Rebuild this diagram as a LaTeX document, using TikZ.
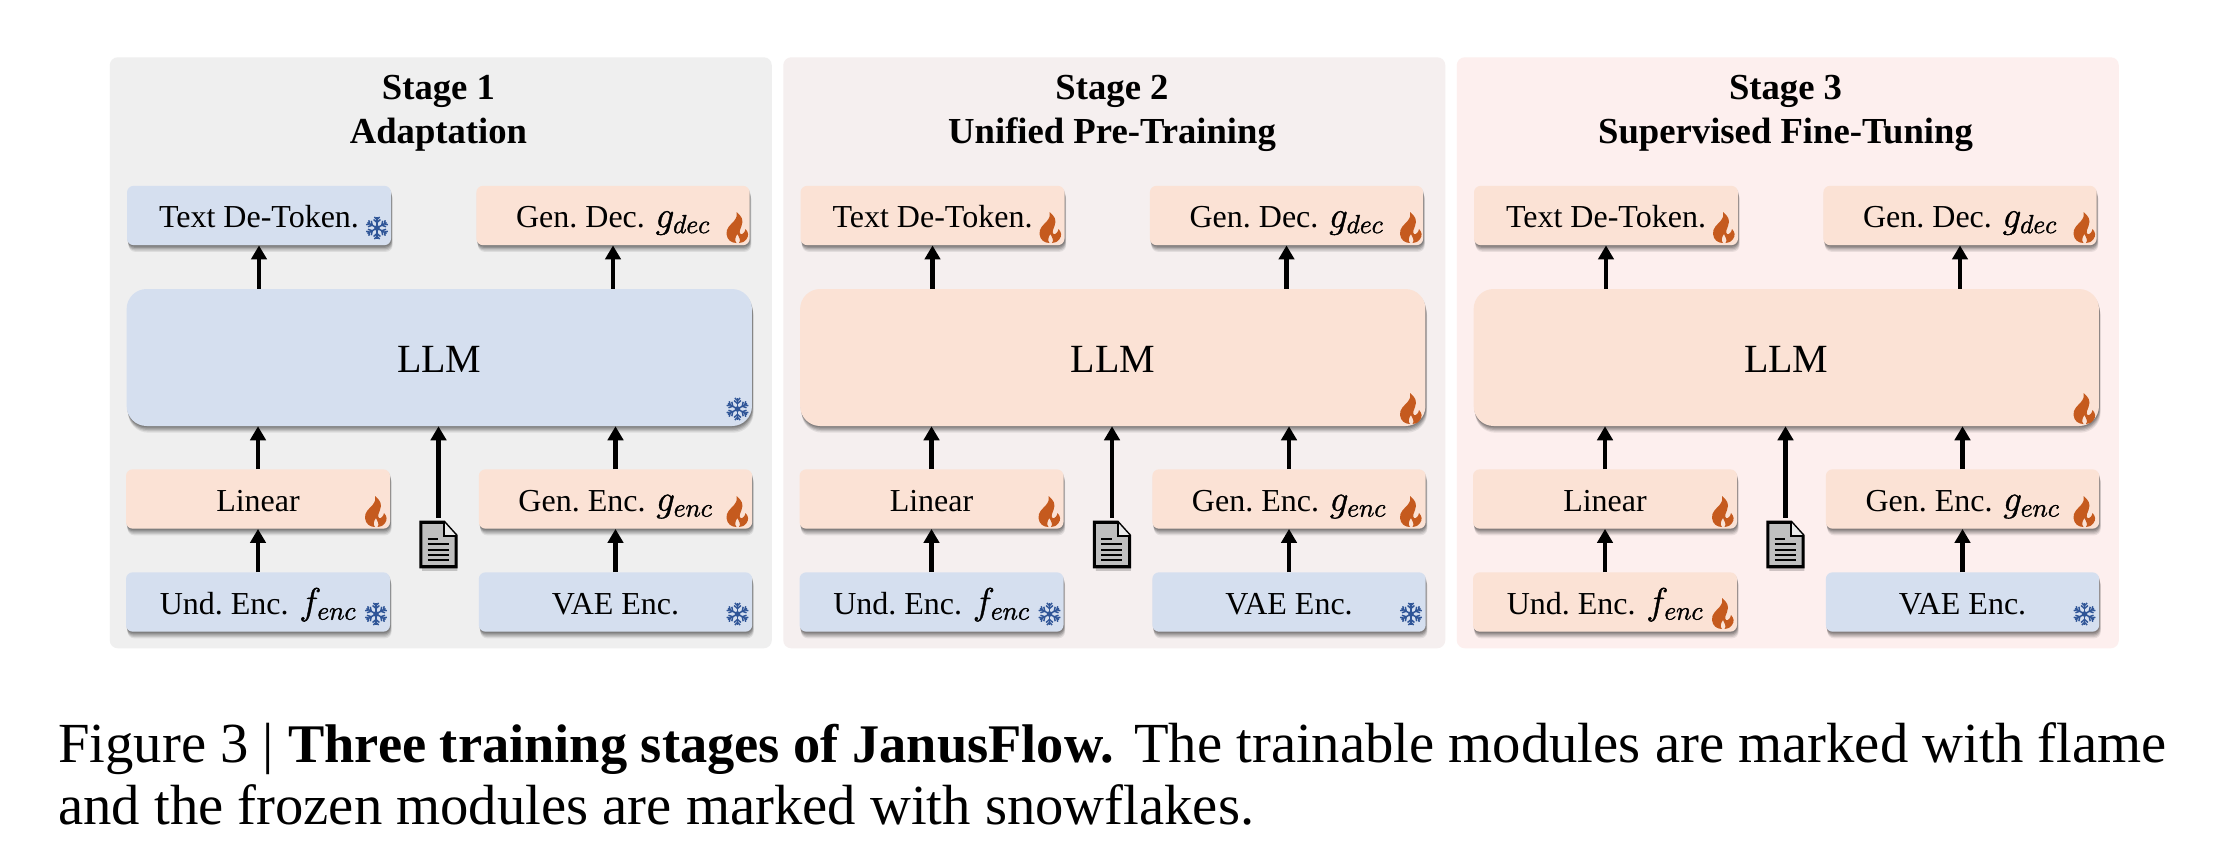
\documentclass[tikz,border=0pt]{standalone}
\usepackage{fix-cm}
\usepackage{fontspec}
\setmainfont{Liberation Serif}
\usetikzlibrary{arrows.meta,shadows}
\definecolor{frozen}{HTML}{D5DFEF}
\definecolor{train}{HTML}{FBE2D5}
\definecolor{iceblue}{HTML}{2F5597}
\definecolor{flamec}{HTML}{C55A1E}
\definecolor{pa}{HTML}{EFEFEF}
\definecolor{pb}{HTML}{F5EFEF}
\definecolor{pc}{HTML}{FDEFEE}
\frenchspacing
\newcommand{\mathtxt}[1]{\kern2pt{\fontsize{28}{28}\selectfont\special{pdf:code q 2 Tr 0.3 w}$#1$\special{pdf:code Q}}}
\tikzset{
  softshadow/.style={
    general shadow={fill=black,opacity=.08,shadow xshift=1.2pt,shadow yshift=-5pt},
    general shadow={fill=black,opacity=.10,shadow xshift=1pt,shadow yshift=-4pt},
    general shadow={fill=black,opacity=.12,shadow xshift=0.8pt,shadow yshift=-3pt},
    general shadow={fill=black,opacity=.14,shadow xshift=0.6pt,shadow yshift=-2pt},
    general shadow={fill=black,opacity=.14,shadow xshift=0.4pt,shadow yshift=-1pt}},
  panelbg/.style={rounded corners=6pt,inner sep=0pt,minimum width=496.5pt,minimum height=443.25pt},
  box/.style={rectangle,rounded corners=5pt,inner sep=0pt,font=\fontsize{24}{24}\selectfont,
    text height=18pt,text depth=0pt,minimum height=44.5pt,softshadow},
  bxfr/.style={box,fill=frozen},
  bxtr/.style={box,fill=train},
  lbox/.style={font=\fontsize{30}{30}\selectfont,text height=21.75pt,minimum width=469pt,minimum height=102.75pt,rounded corners=15pt},
  sbox/.style={minimum width=198pt},
  wbox/.style={minimum width=205pt},
  title/.style={font=\bfseries\fontsize{27.5}{27.5}\selectfont,inner sep=0pt,anchor=base},
  capt/.style={font=\fontsize{42.5}{42.5}\selectfont,inner sep=0pt,anchor=base west},
  conn/.style={-{Triangle[length=10.5pt,width=11.5pt]},line width=3.7pt},
  pics/icfr/.style={code={
    \foreach \a in {0,60,120,180,240,300}{
      \begin{scope}[rotate=\a,iceblue,line width=1.1pt]
        \draw (0,0) -- (0,-11);
        \draw (-3.4,-8.5) -- (0,-5.5) -- (3.4,-8.5);
        \draw (-2.6,-11) -- (0,-8.5) -- (2.6,-11);
      \end{scope}}
    \fill[iceblue] (0,0) circle (2.8);
  }},
  pics/ictr/.style={code={
    \fill[flamec]
      (-1,15) .. controls (-6,15) and (-10.5,12) .. (-11,6)
      .. controls (-11.5,0) and (-7,-3) .. (-3.5,-7)
      .. controls (-1,-10) and (0,-13) .. (-1,-16)
      .. controls (4,-12) and (6.5,-8) .. (4,-2)
      .. controls (3,1) and (1,4) .. (3,6)
      .. controls (5,7) and (7.5,4) .. (8,1)
      .. controls (11,4) and (11.5,8) .. (9,11)
      .. controls (7,14) and (4,15) .. (1.5,15)
      .. controls (4,12) and (1,9) .. (0,6)
      .. controls (-2.5,9) and (-3,13) .. (-1,15) -- cycle;
  }},
}
% #1 shift, #2 panel colour, #3 subtitle, #4 stage, #5 de-token kind, #6 LLM kind, #7 und. enc kind
\newcommand{\stagepanel}[7]{%
\begin{scope}[xshift=#1*0.75pt]
  \node[panelbg,fill=#2,anchor=north west] (bg#4) at (109.5,57) {};
  \node[title] (st#4) at (438.5,99) {Stage #4};
  \node[title] (sb#4) at (438.5,143) {#3};
  \node[bx#5,sbox] (dt#4) at (259,215.5) {Text De-Token.};
  \node[bxtr,wbox] (gd#4) at (613,215.5) {Gen. Dec. \mathtxt{g_{dec}}};
  \node[bx#6,lbox] (ll#4) at (439.3,357.5) {LLM};
  \node[bxtr,sbox] (li#4) at (258,499) {Linear};
  \node[bxtr,wbox] (ge#4) at (615.5,499) {Gen. Enc. \mathtxt{g_{enc}}};
  \node[bx#7,sbox] (un#4) at (258,602) {Und. Enc. \mathtxt{f_{enc}}};
  \node[bxfr,wbox] (va#4) at (615.5,602) {VAE Enc.};
  \node[inner sep=0pt,minimum width=26pt,minimum height=33pt] (dc#4) at (438.5,544.5) {};
  \fill[black,opacity=.18] ([xshift=1pt,yshift=-3pt]dc#4.north west) -- ([xshift=-8pt,yshift=-3pt]dc#4.north east) -- ([xshift=1pt,yshift=-9pt]dc#4.north east) -- ([xshift=1pt,yshift=-3pt]dc#4.south east) -- ([xshift=1pt,yshift=-3pt]dc#4.south west) -- cycle;
  \draw[line width=2.3pt,fill=black!25,line join=miter] (dc#4.north west) -- ([xshift=-9pt]dc#4.north east) -- ([yshift=-10pt]dc#4.north east) -- (dc#4.south east) -- (dc#4.south west) -- cycle;
  \draw[line width=1.5pt,fill=black!8] ([xshift=-9pt]dc#4.north east) -- ([xshift=-9pt,yshift=-10pt]dc#4.north east) -- ([yshift=-10pt]dc#4.north east);
  \foreach \yy/\xa/\xb in {12.5/5/13,16.5/5/21,20.5/5/21,24.5/5/21,28/5/21}
    \draw[line width=1.4pt] ([xshift=\xa pt,yshift=-\yy pt]dc#4.north west) -- ([xshift=\xb pt,yshift=-\yy pt]dc#4.north west);
  \draw[conn] (ll#4.north -| dt#4.south) -- (dt#4.south);
  \draw[conn] (ll#4.north -| gd#4.south) -- (gd#4.south);
  \draw[conn] (li#4.north) -- (li#4.north |- ll#4.south);
  \draw[conn] (ge#4.north) -- (ge#4.north |- ll#4.south);
  \draw[conn] (un#4.north) -- (li#4.south);
  \draw[conn] (va#4.north) -- (ge#4.south);
  \draw[conn,shorten <=3.5pt] (dc#4.north) -- (dc#4.north |- ll#4.south);
  \pic at (377,228) {ic#5};
  \pic at (737.5,228) {ictr};
  \pic at (737.5,409) {ic#6};
  \pic at (376,512) {ictr};
  \pic at (737.5,512) {ictr};
  \pic at (376,614) {ic#7};
  \pic at (737.5,614) {icfr};
\end{scope}}
\begin{document}
\begin{tikzpicture}[x=0.75pt,y=-0.75pt]
\useasboundingbox (0,0) rectangle (2222,856);
\fill[white] (0,0) rectangle (2222,856);
\stagepanel{0}{pa}{Adaptation}{1}{fr}{fr}{fr}
\stagepanel{673.5}{pb}{Unified Pre-Training}{2}{tr}{tr}{fr}
\stagepanel{1347}{pc}{Supervised Fine-Tuning}{3}{tr}{tr}{tr}
\node[capt] (cap1) at (58,762) {Figure 3 | {\bfseries\fontsize{40.8}{40.8}\selectfont Three training stages of JanusFlow.}\kern4.5pt{} The trainable modules are marked with flame};
\node[capt] (cap2) at (58,824) {and the frozen modules are marked with snowflakes.};
\end{tikzpicture}
\end{document}
